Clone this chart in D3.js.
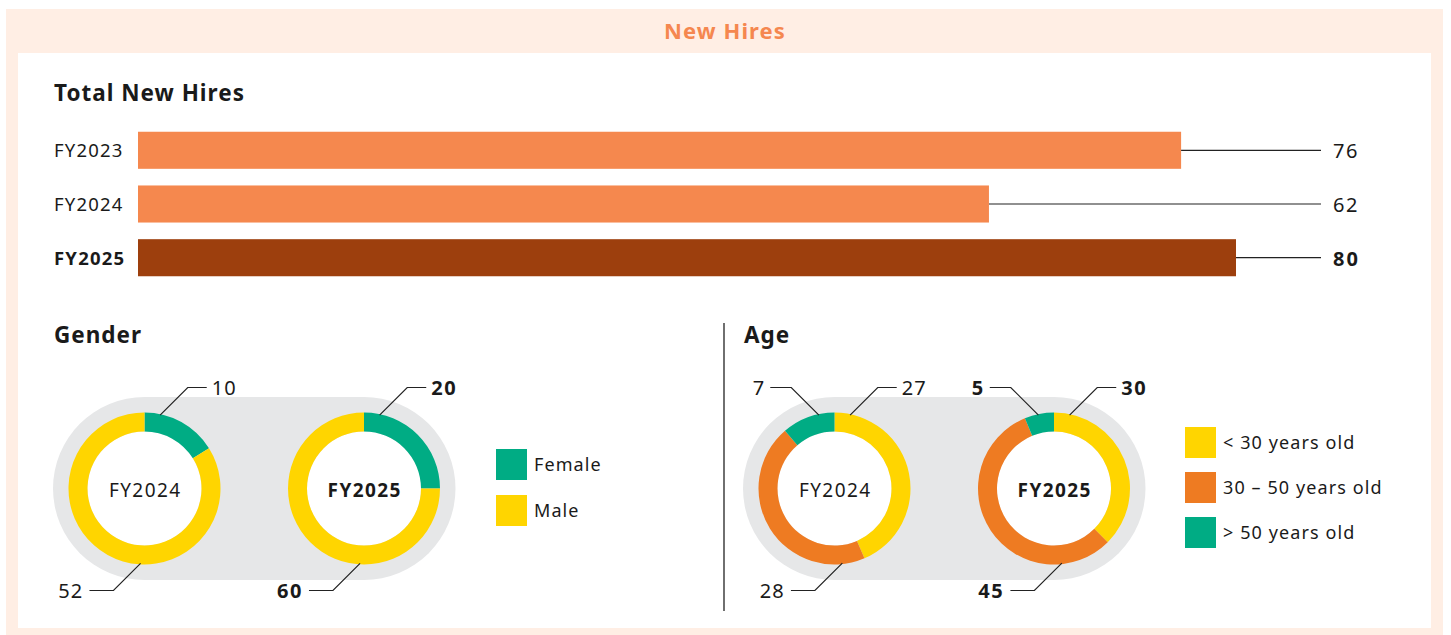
<!DOCTYPE html>
<html>
<head>
<meta charset="utf-8">
<script src="https://cdn.jsdelivr.net/npm/d3@7"></script>
<style>
  html, body { margin: 0; padding: 0; background: #ffffff; }
  svg { display: block; font-family: "Noto Sans", "DejaVu Sans", sans-serif; }
</style>
</head>
<body>
<svg id="chart" width="1451" height="635"></svg>
<script>
// ---- data ----
const years = ["FY2023", "FY2024", "FY2025"];
const totalHires = [76, 62, 80];

const genderYears = ["FY2024", "FY2025"];
const genderKeys = ["Female", "Male"];
const femaleHires = [10, 20];
const maleHires = [52, 60];

const ageYears = ["FY2024", "FY2025"];
const ageKeys = ["< 30 years old", "30 – 50 years old", "> 50 years old"];
const ageUnder30 = [27, 30];
const age30to50 = [28, 45];
const ageOver50 = [7, 5];

// ---- styling ----
const C = {
  peach: "#FFEEE4",
  title: "#F5874F",
  barLight: "#F5884E",
  barDark: "#9D3F0D",
  pill: "#E6E7E8",
  green: "#00AC84",
  yellow: "#FFD500",
  orange: "#EE7B22",
  text: "#1a1a1a",
  line: "#222222"
};

const svg = d3.select("#chart");

// frame
svg.append("rect").attr("x", 6).attr("y", 9).attr("width", 1437).attr("height", 626).attr("fill", C.peach);
svg.append("rect").attr("x", 18).attr("y", 53).attr("width", 1413).attr("height", 575).attr("fill", "#ffffff");

svg.append("text").attr("x", 725).attr("y", 39).attr("text-anchor", "middle")
  .attr("font-size", 22).attr("font-weight", 700).attr("letter-spacing", 1.1)
  .attr("fill", C.title).text("New Hires");

// ---- total new hires bars ----
function heading(xp, yp, label) {
  svg.append("text").attr("x", xp).attr("y", yp).attr("font-size", 22.5).attr("font-weight", 700)
    .attr("letter-spacing", 1).attr("fill", C.text).text(label);
}
heading(54, 101, "Total New Hires");

const x = d3.scaleLinear().domain([0, 80]).range([138, 1236]);
const y = d3.scaleBand().domain(years).range([121, 287]).paddingInner(0.31).paddingOuter(0.2);

const barRows = svg.append("g").selectAll("g").data(years.map((yr, i) => ({ yr, v: totalHires[i], last: i === years.length - 1 })))
  .join("g");

barRows.append("rect")
  .attr("x", x(0)).attr("y", d => y(d.yr))
  .attr("width", d => x(d.v) - x(0)).attr("height", y.bandwidth())
  .attr("fill", d => d.last ? C.barDark : C.barLight);

barRows.append("line")
  .attr("x1", d => x(d.v)).attr("x2", 1321)
  .attr("y1", d => y(d.yr) + y.bandwidth() / 2).attr("y2", d => y(d.yr) + y.bandwidth() / 2)
  .attr("stroke", C.line).attr("stroke-width", 1.2);

barRows.append("text")
  .attr("x", 1333).attr("y", d => y(d.yr) + y.bandwidth() / 2 + 8)
  .attr("font-size", 20).attr("font-weight", d => d.last ? 700 : 400).attr("fill", C.text)
  .attr("letter-spacing", d => d.last ? 2 : 1.5)
  .text(d => d.v);

barRows.append("text")
  .attr("x", 54).attr("y", d => y(d.yr) + y.bandwidth() / 2 + 7)
  .attr("font-size", 18.5).attr("font-weight", d => d.last ? 700 : 400).attr("fill", C.text)
  .attr("letter-spacing", 1.2)
  .text(d => d.yr);

// ---- section headers ----
heading(54, 343, "Gender");
heading(744, 343, "Age");
svg.append("line").attr("x1", 724).attr("x2", 724).attr("y1", 323).attr("y2", 611).attr("stroke", C.line).attr("stroke-width", 1.3);

// ---- donut pairs ----
const rOuter = 76, rInner = 57, pillR = 91.5;
const arc = d3.arc().innerRadius(rInner).outerRadius(rOuter);
const pie = d3.pie().sort(null).value(d => d.v);
const deg = Math.PI / 180;

function leader(g, cx, cy, angleDeg, side, label, bold) {
  // point on the ring's outer edge
  const a = angleDeg * deg;
  const px = cx + Math.sin(a) * 75;
  const py = cy - Math.cos(a) * 75;
  let pts, tx, ty, anchor;
  if (side === "topRight") {
    const ly = cy - 101;
    const ex = px + (py - ly);
    pts = [[px, py], [ex, ly], [ex + 19, ly]];
    tx = ex + 24; ty = ly + 7; anchor = "start";
  } else if (side === "topLeft") {
    const ly = cy - 101;
    const ex = px - (py - ly);
    pts = [[px, py], [ex, ly], [ex - 21, ly]];
    tx = ex - 26; ty = ly + 7; anchor = "end";
  } else {
    const ly = cy + 102;
    const ex = px - (ly - py);
    pts = [[px, py], [ex, ly], [ex - 24, ly]];
    tx = ex - 30; ty = ly + 7; anchor = "end";
  }
  g.append("path").attr("d", d3.line()(pts)).attr("fill", "none").attr("stroke", C.line).attr("stroke-width", 1.2);
  g.append("text").attr("x", tx).attr("y", ty).attr("text-anchor", anchor)
    .attr("font-size", 20).attr("font-weight", bold ? 700 : 400).attr("fill", C.text)
    .attr("letter-spacing", bold ? 1.6 : 1.2).text(label);
}

function donutPair(leftCx, cy, yearsArr, segs, labelSides) {
  const g = svg.append("g");
  const gap = 219.5;
  g.append("rect").attr("x", leftCx - pillR).attr("y", cy - pillR)
    .attr("width", gap + 2 * pillR).attr("height", 2 * pillR).attr("rx", pillR).attr("fill", C.pill);
  yearsArr.forEach((yr, i) => {
    const cx = leftCx + i * gap;
    const bold = i === yearsArr.length - 1;
    const data = segs.map(s => ({ v: s.values[i], color: s.color }));
    const dg = g.append("g").attr("transform", `translate(${cx},${cy})`);
    dg.append("circle").attr("r", rInner).attr("fill", "#ffffff");
    dg.selectAll("path").data(pie(data)).join("path").attr("d", arc).attr("fill", d => d.data.color);
    dg.append("text").attr("text-anchor", "middle").attr("x", 0.7).attr("y", 8.5)
      .attr("font-size", 19).attr("font-weight", bold ? 700 : 400).attr("fill", C.text)
      .attr("letter-spacing", 1.4).text(yr);
    segs.forEach((s, k) => leader(g, cx, cy, labelSides[k].angle, labelSides[k].side, s.values[i], bold));
  });
}

donutPair(144.5, 488.5, genderYears,
  [{ values: femaleHires, color: C.green }, { values: maleHires, color: C.yellow }],
  [{ side: "topRight", angle: 12 }, { side: "bottom", angle: 183 }]);

donutPair(834.5, 488.5, ageYears,
  [{ values: ageUnder30, color: C.yellow }, { values: age30to50, color: C.orange }, { values: ageOver50, color: C.green }],
  [{ side: "topRight", angle: 12 }, { side: "bottom", angle: 174 }, { side: "topLeft", angle: -12 }]);

// ---- legends ----
function legend(x0, y0, step, items) {
  const g = svg.append("g").attr("transform", `translate(${x0},${y0})`);
  const row = g.selectAll("g").data(items).join("g").attr("transform", (d, i) => `translate(0,${i * step})`);
  row.append("rect").attr("width", 31).attr("height", 31).attr("fill", d => d.color);
  row.append("text").attr("x", 38).attr("y", 22).attr("font-size", 18).attr("fill", C.text)
    .attr("letter-spacing", 1.1).text(d => d.label);
}

legend(496, 449, 46, [{ label: genderKeys[0], color: C.green }, { label: genderKeys[1], color: C.yellow }]);
legend(1185, 427, 45, [
  { label: ageKeys[0], color: C.yellow },
  { label: ageKeys[1], color: C.orange },
  { label: ageKeys[2], color: C.green }
]);
</script>
</body>
</html>
